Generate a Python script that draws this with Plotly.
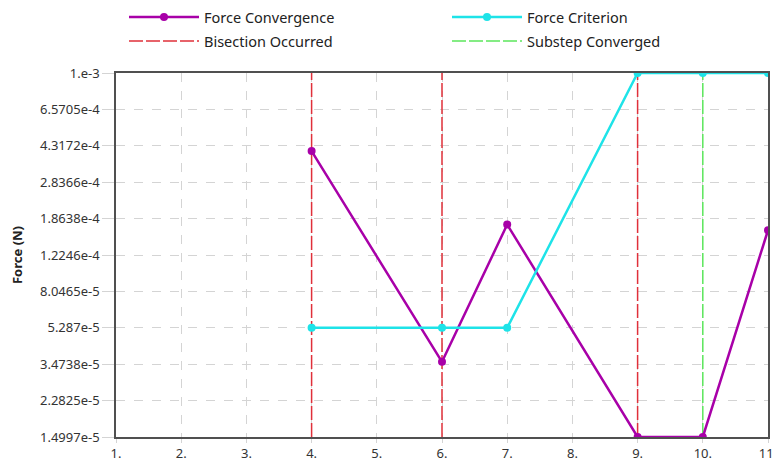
import numpy as np
import plotly.graph_objects as go

# Data
steps_conv = [4, 6, 7, 9, 10, 11]
force_convergence = [4.06e-4, 3.57e-5, 1.74e-4, 1.4997e-5, 1.4997e-5, 1.63e-4]
steps_crit = [4, 6, 7, 9, 10, 11]
force_criterion = [5.287e-5, 5.287e-5, 5.287e-5, 1e-3, 1e-3, 1e-3]
bisection_steps = [4, 6, 9]
substep_converged_steps = [10]

y_tick_vals = [1e-3, 6.5705e-4, 4.3172e-4, 2.8366e-4, 1.8638e-4, 1.2246e-4,
               8.0465e-5, 5.287e-5, 3.4738e-5, 2.2825e-5, 1.4997e-5]
y_tick_text = ["1.e-3", "6.5705e-4", "4.3172e-4", "2.8366e-4", "1.8638e-4", "1.2246e-4",
               "8.0465e-5", "5.287e-5", "3.4738e-5", "2.2825e-5", "1.4997e-5"]
x_tick_vals = list(range(1, 12))
x_tick_text = [f"{v}." for v in x_tick_vals]

y_min, y_max = 1.4997e-5, 1e-3

FONT = "Noto Sans"
PURPLE = "#A800A8"
CYAN = "#1EE3E8"
RED = "#E0303A"
GREEN = "#5CE65C"


def vlines(xs):
    xx, yy = [], []
    for x in xs:
        xx += [x, x, None]
        yy += [y_min, y_max, None]
    return xx, yy


fig = go.Figure()

bx, by = vlines(bisection_steps)
fig.add_trace(go.Scatter(x=bx, y=by, mode="lines", name="Bisection Occurred",
                         line=dict(color=RED, width=1.5, dash="14px,3px"),
                         legend="legend2", legendrank=1, hoverinfo="skip"))
sx, sy = vlines(substep_converged_steps)
fig.add_trace(go.Scatter(x=sx, y=sy, mode="lines", name="Substep Converged",
                         line=dict(color=GREEN, width=1.5, dash="14px,3px"),
                         legend="legend2", legendrank=2, hoverinfo="skip"))

fig.add_trace(go.Scatter(x=steps_conv, y=force_convergence, mode="lines+markers",
                         name="Force Convergence", legendrank=1,
                         line=dict(color=PURPLE, width=2.5),
                         marker=dict(color=PURPLE, size=8, symbol="circle")))
fig.add_trace(go.Scatter(x=steps_crit, y=force_criterion, mode="lines+markers",
                         name="Force Criterion", legendrank=2,
                         line=dict(color=CYAN, width=2.5),
                         marker=dict(color=CYAN, size=8, symbol="circle")))

legend_common = dict(orientation="h", xanchor="left", yanchor="middle",
                     font=dict(family=FONT, size=14.5, color="#222"),
                     bgcolor="rgba(0,0,0,0)", itemwidth=70,
                     entrywidth=238, itemclick=False)

# page body has an 8px margin; size the figure so the plot lands where the reference has it
fig.update_layout(
    width=772, height=464,
    margin=dict(l=108, r=12, t=65, b=35, autoexpand=False),
    paper_bgcolor="white", plot_bgcolor="white",
    font=dict(family=FONT, size=13, color="#333"),
    showlegend=True,
    legend=dict(x=8 / 652, y=1.0 + (73 - 17) / 364, **legend_common),
    legend2=dict(x=8 / 652, y=1.0 + (73 - 41) / 364, **legend_common),
    xaxis=dict(range=[1, 11], tickvals=x_tick_vals, ticktext=x_tick_text,
               showgrid=True, griddash="dash", gridcolor="#D4D4D4", gridwidth=1,
               showline=True, linecolor="#505050", linewidth=1.5, mirror=True,
               ticks="outside", ticklen=4, tickcolor="#D4D4D4",
               zeroline=False, tickfont=dict(size=13, color="#333")),
    yaxis=dict(type="log", range=[np.log10(y_min), np.log10(y_max)],
               tickvals=y_tick_vals, ticktext=y_tick_text,
               showgrid=True, griddash="dash", gridcolor="#D4D4D4", gridwidth=1,
               showline=True, linecolor="#505050", linewidth=1.5, mirror=True,
               ticks="outside", ticklen=12, tickcolor="#D4D4D4",
               zeroline=False, tickfont=dict(size=13, color="#333")),
)
fig.update_yaxes(title=dict(text="<b>Force (N)</b>", font=dict(size=13, color="#222"),
                            standoff=15))

fig.write_html("out.html")
